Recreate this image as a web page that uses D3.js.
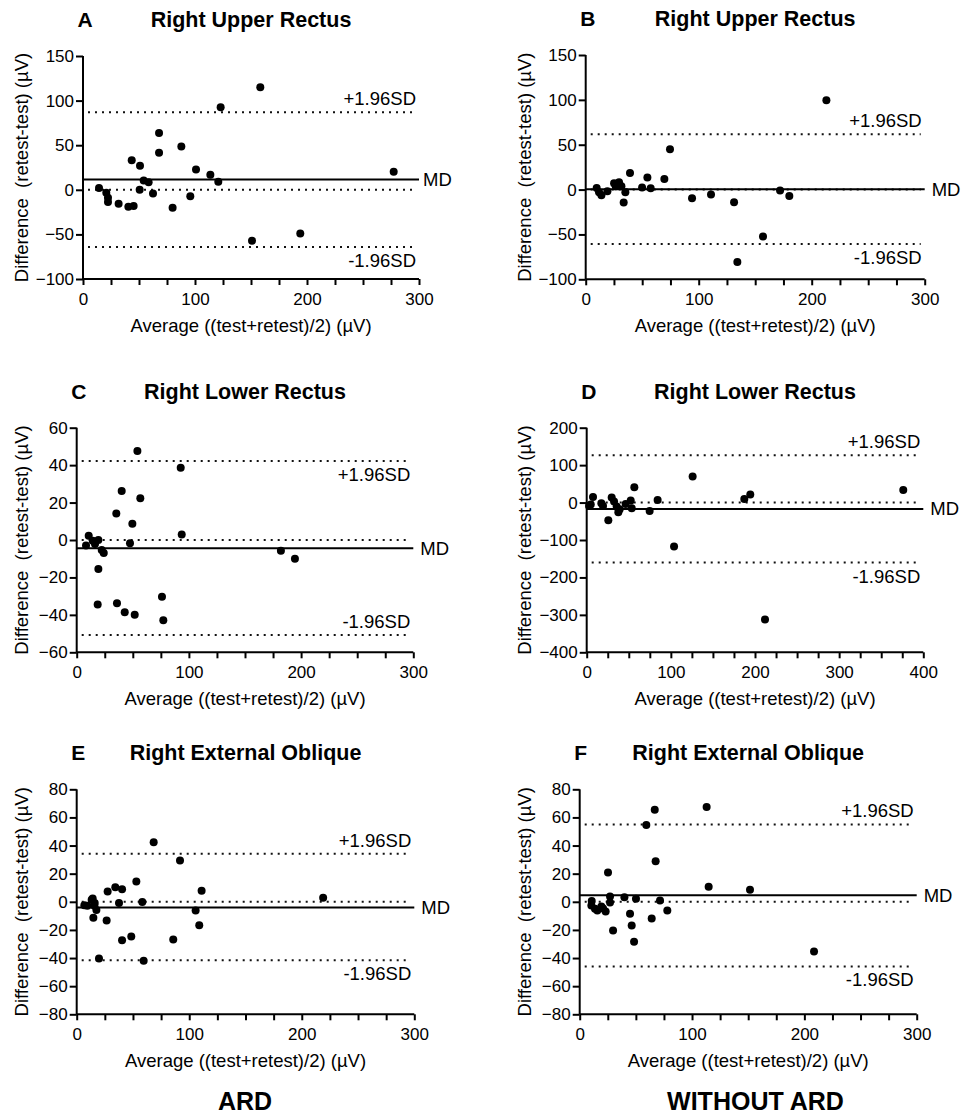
<!DOCTYPE html>
<html>
<head>
<meta charset="utf-8">
<script src="https://cdn.jsdelivr.net/npm/d3@7"></script>
<style>
html,body{margin:0;padding:0;background:#fff;}
svg{display:block;font-family:"Liberation Sans",Arial,Helvetica,sans-serif;}
</style>
</head>
<body>
<svg id="chart" width="968" height="1119"></svg>
<script>
// ---------- DATA ----------
const panelLetters = ["A","B","C","D","E","F"];
const panelTitles = ["Right Upper Rectus","Right Upper Rectus","Right Lower Rectus","Right Lower Rectus","Right External Oblique","Right External Oblique"];
const groupLabels = ["ARD","WITHOUT ARD"];
const xAxisTitle = "Average ((test+retest)/2) (µV)";
const yAxisTitle = "Difference  (retest-test) (µV)";
const upperLabel = "+1.96SD";
const lowerLabel = "-1.96SD";
const mdLabel = "MD";

const xTicks300 = [0,100,200,300];
const xTicks400 = [0,100,200,300,400];
const yTicksAB = [-100,-50,0,50,100,150];
const yTicksC = [-60,-40,-20,0,20,40,60];
const yTicksD = [-400,-300,-200,-100,0,100,200];
const yTicksEF = [-80,-60,-40,-20,0,20,40,60,80];

const aX = [14.3,20.8,22.3,22.3,31.8,40.5,45.2,43.5,50.9,50.6,54.2,58.6,62.5,67.9,67.9,80,87.8,95.8,100.9,113.7,120.8,122.9,150.9,158.3,194,277.4];
const aY = [1.9,-3.4,-9,-13.8,-15.7,-19,-18.3,33.2,26.9,0,10.4,8.6,-4.1,63.8,41.4,-20.1,48.5,-7.1,22.8,16.8,9,92.5,-57.1,114.9,-48.9,20.1];

const bX = [9.7,11.8,13.9,19.2,25.1,28,29.5,31.6,26.6,33.6,35.1,39.2,49.9,54.6,57.5,69.6,74.6,94.1,110.9,131.3,134.2,156.9,172,180.2,213];
const bY = [1.9,-3,-6.3,-1.9,7.1,5.2,8.2,3.7,3.7,-14.5,-3,18.6,2.2,13.4,1.5,11.9,45,-9.7,-5.6,-14.1,-80.6,-52.4,-1.1,-7.1,99.6];

const cX = [8.3,10.7,14.3,16.3,19.3,22.3,24.1,19.3,18.7,35.3,35.9,40.1,42.8,47.5,49.6,51.7,54.1,56.7,76,77.2,92.7,93.6,182,194.5];
const cY = [-3,2.3,-0.4,-2.1,0,-5.3,-6.9,-15.5,-34.4,14.1,-33.8,26.2,-38.6,-1.8,8.7,-39.9,47.5,22.3,-30.3,-42.9,38.6,3,-5.7,-10];

const dX = [2.8,7.5,4.8,17.4,19.4,25.7,29.7,32.5,35.6,37.6,39.2,46.3,52.3,53.5,56.6,74.8,84.3,103.8,125.9,187.3,194.4,211.9,376.2];
const dY = [-8.9,15.1,-5.3,-1.8,-8.9,-47.2,13.4,2.7,-10.7,-25.8,-17.8,-3.6,5.3,-15.1,40.9,-22.2,7.1,-117.5,69.4,9.8,21.4,-312.4,33.8];

const eX = [6.8,9.5,13.3,14.2,16,14.8,17.5,15.7,19.8,26.6,27.5,34.3,37.6,40.3,40.3,48.5,53,58.3,59.5,68.4,85.8,91.8,105.7,108.9,111,219];
const eY = [-2.4,-2.8,1.4,2.4,-0.9,-11.4,-5.9,-2.8,-40.3,-13.3,7.3,10.4,-0.9,9,-27.3,-24.6,14.5,-0.2,-42,42.4,-26.8,29.4,-6.2,-16.6,7.8,2.8];

const fX = [10.7,10.4,13.6,15.7,19.3,20.8,23.1,25.2,27,27,29.7,39.8,44.8,46.3,50.1,48.4,59.3,64.1,66.8,67.6,71.5,78,113,114.8,151.6,208.6];
const fY = [0.5,-2.6,-5,-6.2,-3.3,-4.7,-6.9,20.9,3.8,-0.5,-20.4,3.3,-8.5,-16.8,2.1,-28.4,54.7,-11.9,65.4,28.9,0.9,-6.2,67.5,10.7,8.5,-35.3];

const meanDiff = [11.6,0.5,-4.4,-16.9,-4,4.7];
const upperLoA = [86.9,61.7,42.2,126.4,34.1,55];
const lowerLoA = [-64.2,-60.6,-50.7,-160.2,-41.5,-46];

const xMax = [300,300,300,400,300,300];
const yDomains = [[-100,150],[-100,150],[-60,60],[-400,200],[-80,80],[-80,80]];
const xTickSets = [xTicks300,xTicks300,xTicks300,xTicks400,xTicks300,xTicks300];
const yTickSets = [yTicksAB,yTicksAB,yTicksC,yTicksD,yTicksEF,yTicksEF];
const xs = [aX,bX,cX,dX,eX,fX];
const ys = [aY,bY,cY,dY,eY,fY];

// ---------- LAYOUT ----------
const boxes = [
  {x0:83,   x1:419,   yT:56,    yB:279,   ylx:28,  up:"above", lo:"below", mdOff:4},
  {x0:585.7,x1:924.7, yT:55,    yB:279.3, ylx:531, up:"above", lo:"below", mdOff:7},
  {x0:76.7, x1:413.3, yT:427.7, yB:652.3, ylx:28,  up:"below", lo:"above", mdOff:7},
  {x0:586.7,x1:923.3, yT:427.7, yB:652.3, ylx:531, up:"above", lo:"below", mdOff:7},
  {x0:76.7, x1:414.3, yT:789.3, yB:1014.3,ylx:28,  up:"above", lo:"below", mdOff:7},
  {x0:579.7,x1:916.7, yT:789.3, yB:1014.3,ylx:531, up:"above", lo:"below", mdOff:7}
];

const svg = d3.select("#chart");
const FF = "'Liberation Sans',Arial,sans-serif";

boxes.forEach((b,i)=>{
  const x = d3.scaleLinear().domain([0,xMax[i]]).range([b.x0,b.x1]);
  const y = d3.scaleLinear().domain(yDomains[i]).range([b.yB,b.yT]);
  const g = svg.append("g");

  // minor x ticks every 25
  const minor = d3.range(0, xMax[i]+0.1, 25);
  const xAxis = d3.axisBottom(x).tickValues(minor).tickSize(6)
    .tickFormat(d => xTickSets[i].includes(d) ? d : "");
  const gx = g.append("g").attr("transform",`translate(0,${b.yB})`).call(xAxis);
  gx.select(".domain").attr("stroke","#000").attr("stroke-width",2).attr("d",`M${b.x0},0H${b.x1}`);
  gx.selectAll(".tick line").attr("stroke","#000").attr("stroke-width",2);
  gx.selectAll(".tick text").attr("font-size",17).attr("fill","#000").attr("dy","0.95em").attr("y",10)
    .attr("font-family",FF);

  const yAxis = d3.axisLeft(y).tickValues(yTickSets[i]).tickSize(7).tickFormat(d3.format("d"));
  const gy = g.append("g").attr("transform",`translate(${b.x0},0)`).call(yAxis);
  gy.select(".domain").attr("stroke","#000").attr("stroke-width",2).attr("d",`M0,${b.yT}V${b.yB}`);
  gy.selectAll(".tick line").attr("stroke","#000").attr("stroke-width",2);
  gy.selectAll(".tick text").attr("font-size",17).attr("fill","#000").attr("x",-9)
    .attr("font-family",FF);

  // dotted lines: zero, upper, lower
  [0, upperLoA[i], lowerLoA[i]].forEach(v=>{
    g.append("line").attr("x1",b.x0+5).attr("x2",b.x1-4)
      .attr("y1",y(v)).attr("y2",y(v))
      .attr("stroke","#111").attr("stroke-width",2)
      .attr("stroke-dasharray","2 5");
  });
  // mean difference solid
  g.append("line").attr("x1",b.x0).attr("x2",b.x1)
    .attr("y1",y(meanDiff[i])).attr("y2",y(meanDiff[i]))
    .attr("stroke","#000").attr("stroke-width",2);

  // points
  g.selectAll("circle.pt").data(xs[i].map((v,k)=>[v,ys[i][k]])).enter()
    .append("circle").attr("class","pt")
    .attr("cx",d=>x(d[0])).attr("cy",d=>y(d[1])).attr("r",4).attr("fill","#000");

  // line labels
  const lab = (txt, v, pos) => g.append("text").text(txt)
    .attr("x",b.x1-3).attr("y", pos==="above" ? y(v)-7 : y(v)+20)
    .attr("text-anchor","end").attr("font-size",18.5).attr("fill","#000");
  lab(upperLabel, upperLoA[i], b.up);
  lab(lowerLabel, lowerLoA[i], b.lo);
  g.append("text").text(mdLabel).attr("x",b.x1+b.mdOff).attr("y",y(meanDiff[i]))
    .attr("dy","0.35em").attr("font-size",18.5).attr("fill","#000");

  // titles
  g.append("text").text(panelLetters[i]).attr("x",b.x0-5.5).attr("y",b.yT-29)
    .attr("font-size",21).attr("font-weight","bold").attr("fill","#000");
  g.append("text").text(panelTitles[i]).attr("x",(b.x0+b.x1)/2).attr("y",b.yT-29)
    .attr("text-anchor","middle").attr("font-size",21.5).attr("font-weight","bold").attr("fill","#000");

  // axis titles
  g.append("text").text(xAxisTitle).attr("x",(b.x0+b.x1)/2).attr("y",b.yB+53)
    .attr("text-anchor","middle").attr("font-size",18.5).attr("fill","#000");
  g.append("text").text(yAxisTitle)
    .attr("transform",`translate(${b.ylx},${(b.yT+b.yB)/2}) rotate(-90)`)
    .attr("text-anchor","middle").attr("font-size",18.5).attr("fill","#000")
    .style("white-space","pre");
});

// group labels
svg.append("text").text(groupLabels[0]).attr("x",245).attr("y",1110)
  .attr("text-anchor","middle").attr("font-size",25).attr("font-weight","bold").attr("fill","#000");
svg.append("text").text(groupLabels[1]).attr("x",755.5).attr("y",1110)
  .attr("text-anchor","middle").attr("font-size",25).attr("font-weight","bold").attr("fill","#000");
</script>
</body>
</html>
